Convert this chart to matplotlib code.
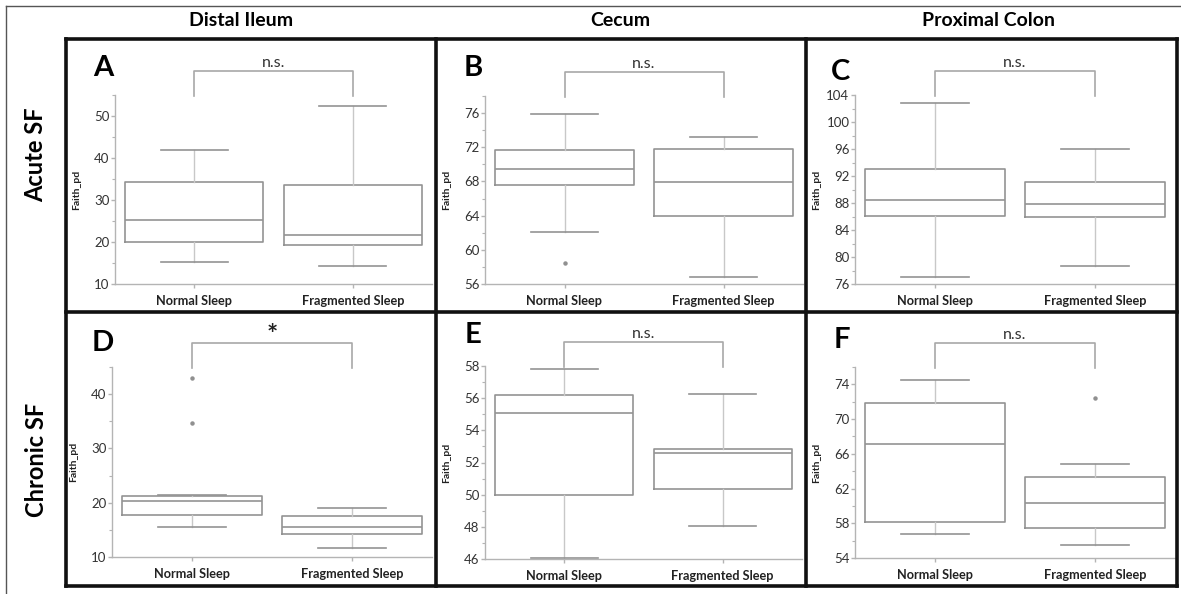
import matplotlib
matplotlib.use("Agg")
import matplotlib.pyplot as plt
from matplotlib.lines import Line2D
from matplotlib.ticker import MultipleLocator
import matplotlib.transforms as mtransforms
import numpy as np

plt.rcParams['font.family'] = ['Lato', 'DejaVu Sans']

W, H = 1181, 594

groups = ['Normal Sleep', 'Fragmented Sleep']
columns = ['Distal Ileum', 'Cecum', 'Proximal Colon']
rows = ['Acute SF', 'Chronic SF']
letters = ['A', 'B', 'C', 'D', 'E', 'F']
signif = ['n.s.', 'n.s.', 'n.s.', '*', 'n.s.', 'n.s.']

# box stats per panel: [low whisker, Q1, median, Q3, high whisker]
stats_A = [[15.2, 20.0, 25.2, 34.3, 42.0], [14.4, 19.3, 21.7, 33.5, 52.3]]
stats_B = [[62.1, 67.6, 69.5, 71.65, 75.9], [56.8, 63.9, 67.9, 71.8, 73.2]]
stats_C = [[77.0, 86.1, 88.4, 93.0, 102.8], [78.6, 86.0, 87.8, 91.1, 96.0]]
stats_D = [[15.6, 17.7, 20.3, 21.3, 21.5], [11.6, 14.3, 15.6, 17.6, 19.1]]
stats_E = [[46.05, 50.0, 55.05, 56.2, 57.8], [48.05, 50.35, 52.6, 52.85, 56.25]]
stats_F = [[56.8, 58.1, 67.1, 71.9, 74.5], [55.5, 57.5, 60.3, 63.3, 64.8]]

outliers_A = [[], []]
outliers_B = [[58.4], []]
outliers_C = [[], []]
outliers_D = [[43.0, 34.6], []]
outliers_E = [[], []]
outliers_F = [[], [72.4]]

# (stats, outliers, y range, major step, minor step)
panels = [
    (stats_A, outliers_A, (10, 55), 10, 5),
    (stats_B, outliers_B, (56, 78), 4, 2),
    (stats_C, outliers_C, (76, 104), 4, 2),
    (stats_D, outliers_D, (10, 45), 10, 5),
    (stats_E, outliers_E, (46, 58), 2, 1),
    (stats_F, outliers_F, (54, 76), 4, 2),
]

# axes boxes in pixels: left, right, top, bottom
ax_px = [
    (115, 432, 95, 284), (485, 803, 96, 284), (855, 1175, 95, 284),
    (112, 432, 367, 557), (485, 802, 366, 559), (855, 1175, 367, 558),
]
letter_px = [(103, 68), (473, 68), (840, 72), (103, 343), (473, 335), (842, 340)]

fig = plt.figure(figsize=(W / 100, H / 100), dpi=100)

box_c = '#939393'
whisk_c = '#c8c8c8'
spine_c = '#b4b4b4'
text_c = '#333333'

for i, (stats, outs, ylim, major, minor) in enumerate(panels):
    l, r, t, b = ax_px[i]
    ax = fig.add_axes([l / W, 1 - b / H, (r - l) / W, (b - t) / H])
    bxp_stats = []
    for g, s, o in zip(groups, stats, outs):
        bxp_stats.append(dict(label=g, whislo=s[0], q1=s[1], med=s[2], q3=s[3], whishi=s[4], fliers=o))
    ax.bxp(bxp_stats, positions=[1, 2], widths=0.87, showfliers=True,
           boxprops=dict(color=box_c, linewidth=1.2),
           medianprops=dict(color=box_c, linewidth=1.2),
           whiskerprops=dict(color=whisk_c, linewidth=1.0),
           capprops=dict(color=box_c, linewidth=1.2),
           capwidths=0.42,
           flierprops=dict(marker='o', markersize=2.2, markerfacecolor='#909090',
                           markeredgecolor='#909090'))
    ax.set_xlim(0.5, 2.5)
    ax.set_ylim(*ylim)
    ax.set_yticks(np.arange(ylim[0], ylim[1] + 0.01, major))
    ax.set_yticks(np.arange(ylim[0], ylim[1] + 0.01, minor), minor=True)
    for side in ['top', 'right']:
        ax.spines[side].set_visible(False)
    for side in ['left', 'bottom']:
        ax.spines[side].set_color(spine_c)
        ax.spines[side].set_linewidth(1.0)
    ax.tick_params(axis='y', which='major', length=3, width=1.0, color=spine_c,
                   labelsize=9.5, labelcolor=text_c, pad=1)
    ax.tick_params(axis='y', which='minor', length=2, width=0.8, color=spine_c)
    ax.tick_params(axis='x', length=3, width=1.0, color=spine_c, pad=5)
    ax.set_xticks([1, 2])
    ax.set_xticklabels(groups, fontsize=9.2, fontweight='bold', color='#222222')
    ax.patch.set_alpha(0)

    ax.text(-38 / (r - l), 0.5, 'Faith_pd', transform=ax.transAxes, rotation=90,
            ha='center', va='center', fontsize=7.5, fontweight='bold', color='#222222')

    # significance bracket
    trans = mtransforms.blended_transform_factory(ax.transData, ax.transAxes)
    h = b - t
    ytop = 1 + 24 / h
    ax.plot([1, 1, 2, 2], [0.995, ytop, ytop, 0.995], transform=trans, color='#a8a8a8',
            linewidth=1.2, clip_on=False)
    if signif[i] == '*':
        ax.text(1.5, ytop - 0.02, '*', transform=trans, ha='center', va='bottom',
                fontsize=19, fontweight='bold', color='#222222')
    else:
        ax.text(1.5, ytop + 0.005, signif[i], transform=trans, ha='center', va='bottom',
                fontsize=11.5, color=text_c)

    lx, ly = letter_px[i]
    fig.text(lx / W, 1 - ly / H, letters[i], ha='center', va='center',
             fontsize=21, fontweight='bold', color='black')

# panel frames
frame_x = [66, 436, 806, 1177]
frame_y = [39, 312, 586]
for x in frame_x:
    fig.add_artist(Line2D([x / W, x / W], [1 - frame_y[0] / H, 1 - frame_y[-1] / H],
                          color='#111111', linewidth=2.6))
for y in frame_y:
    fig.add_artist(Line2D([frame_x[0] / W, frame_x[-1] / W], [1 - y / H, 1 - y / H],
                          color='#111111', linewidth=2.6))

# outer thin border
fig.add_artist(Line2D([6 / W, 6 / W], [0, 1 - 6 / H], color='#555555', linewidth=1.0))
fig.add_artist(Line2D([6 / W, 1], [1 - 6 / H, 1 - 6 / H], color='#555555', linewidth=1.0))

col_x = [241, 620, 989]
for c, x in zip(columns, col_x):
    fig.text(x / W, 1 - 21 / H, c, ha='center', va='center', fontsize=14,
             fontweight='bold', color='black')

row_y = [155, 460]
for rname, y in zip(rows, row_y):
    fig.text(36 / W, 1 - y / H, rname, ha='center', va='center', rotation=90,
             fontsize=17, fontweight='bold', color='black')

fig.savefig('out.png', dpi=100)
